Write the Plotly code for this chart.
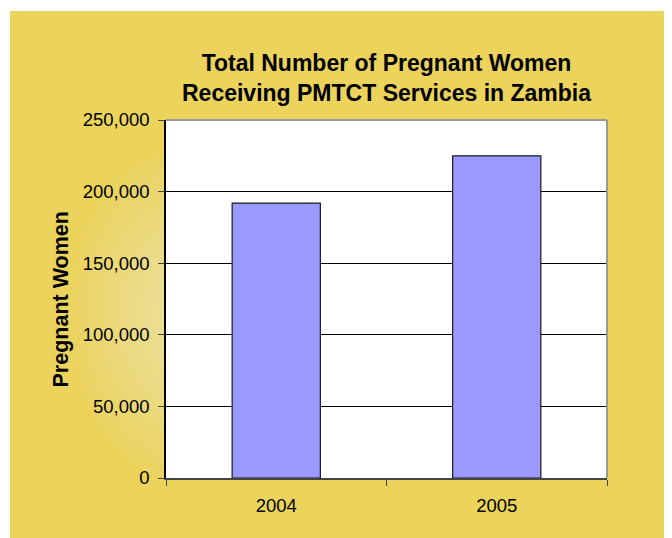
import plotly.graph_objects as go

years = ["2004", "2005"]
women = [192000, 225000]
y_ticks = [0, 50000, 100000, 150000, 200000, 250000]

# page is offset by the 8px body margin, so the figure covers 664x530
W, H = 664, 530
L, R, T, B = 158, 65, 112, 60
PW, PH = W - L - R, H - T - B

def px(x):
    return (x - L) / PW

def py(y):
    return (H - B - y) / PH

YELLOW = "#EBD35C"

shapes = []
# thin white strips (top and left)
shapes.append(dict(type="rect", xref="paper", yref="paper", x0=px(-5), x1=px(W + 5), y0=py(3), y1=py(-5),
                   fillcolor="white", line=dict(width=0), layer="below"))
shapes.append(dict(type="rect", xref="paper", yref="paper", x0=px(-5), x1=px(2), y0=py(H + 5), y1=py(-5),
                   fillcolor="white", line=dict(width=0), layer="below"))
# soft radial glow
cx, cy = 177, 307
n = 14
for i in range(n):
    f = 1 - i / n
    rx, ry = 115 * f, 165 * f
    shapes.append(dict(type="circle", xref="paper", yref="paper",
                       x0=px(cx - rx), x1=px(cx + rx), y0=py(cy + ry), y1=py(cy - ry),
                       fillcolor="rgba(255,255,255,0.04)", line=dict(width=0), layer="below"))
# white plot area covering glow
shapes.append(dict(type="rect", xref="paper", yref="paper", x0=0, x1=1, y0=0, y1=1,
                   fillcolor="white", line=dict(width=0), layer="below"))
# gray top/right border
shapes.append(dict(type="line", xref="paper", yref="paper", x0=0, x1=1, y0=1, y1=1,
                   line=dict(color="#9A9A9A", width=2), layer="above"))
shapes.append(dict(type="line", xref="paper", yref="paper", x0=1, x1=1, y0=0, y1=1,
                   line=dict(color="#9A9A9A", width=2), layer="above"))

fig = go.Figure(go.Bar(
    x=years, y=women,
    marker=dict(color="#9999FF", line=dict(color="#1a1a1a", width=1.2)),
))

fig.update_layout(
    width=W, height=H,
    margin=dict(l=L, r=R, t=T, b=B),
    paper_bgcolor=YELLOW,
    plot_bgcolor="white",
    bargap=0.6,
    showlegend=False,
    font=dict(family="Liberation Sans, Arial, sans-serif", color="black"),
    title=dict(
        text="<b>Total Number of Pregnant Women<br>Receiving PMTCT Services in Zambia</b>",
        font=dict(size=23, color="black"),
        x=0.5, xref="paper", xanchor="center",
        y=1 - 63 / H, yref="container", yanchor="top",
    ),
    shapes=shapes,
    annotations=[dict(
        text="<b>Pregnant Women</b>", textangle=-90,
        xref="paper", yref="paper", x=px(52.5), y=py(292),
        xanchor="center", yanchor="middle", showarrow=False,
        font=dict(size=21.5, color="black"),
    )],
)

fig.update_xaxes(
    showline=True, linecolor="#444444", linewidth=1.5,
    ticks="outside", tickson="boundaries", ticklen=6, tickcolor="#444444",
    tickfont=dict(size=18.5, color="black"), ticklabelstandoff=10,
    showgrid=False,
)
fig.update_yaxes(
    range=[0, 250000], tickvals=y_ticks, tickformat=",",
    showline=True, linecolor="black", linewidth=1.5,
    ticks="outside", ticklen=6, tickcolor="#444444",
    tickfont=dict(size=18.5, color="black"), ticklabelstandoff=5,
    showgrid=True, gridcolor="black", gridwidth=1,
    zeroline=False,
)

fig.write_html("out.html")
